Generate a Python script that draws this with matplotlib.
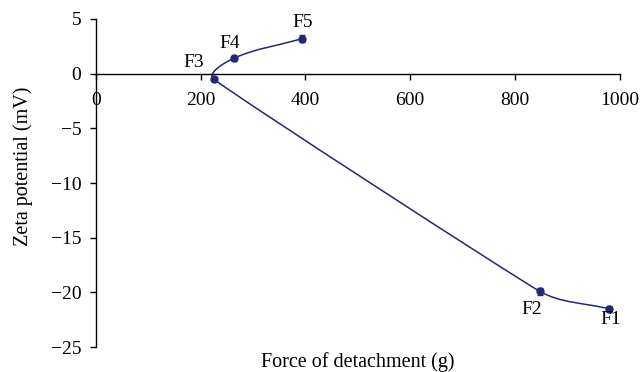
import numpy as np
import matplotlib
matplotlib.use('Agg')
import matplotlib.pyplot as plt
from matplotlib.path import Path
from matplotlib.patches import PathPatch

# data (F1..F5)
labels = ['F1', 'F2', 'F3', 'F4', 'F5']
force = [979, 847, 225, 263, 394]
zeta = [-21.5, -19.9, -0.5, 1.4, 3.2]
zeta_err = [0.3, 0.3, 0.2, 0.2, 0.3]

navy = '#25257a'
fs = 14
plt.rcParams['font.family'] = ['Liberation Serif', 'DejaVu Serif']

fig = plt.figure(figsize=(6.43, 3.72), dpi=100)
ax = fig.add_axes([0.149, 0.067, 0.815, 0.882])
ax.set_xlim(0, 1000)
ax.set_ylim(-25, 5)


def smooth_path(pts, max_arm=35.0):
    # bezier through the points, tangent from neighbours, arms = 1/3 of segment (capped)
    pts = np.asarray(pts, float)
    n = len(pts)
    tang = []
    for i in range(n):
        a = pts[max(i - 1, 0)]
        b = pts[min(i + 1, n - 1)]
        d = b - a
        tang.append(d / np.hypot(*d))
    verts = [pts[0]]
    codes = [Path.MOVETO]
    for i in range(n - 1):
        L = min(np.hypot(*(pts[i + 1] - pts[i])) / 3.0, max_arm)
        verts += [pts[i] + tang[i] * L, pts[i + 1] - tang[i + 1] * L, pts[i + 1]]
        codes += [Path.CURVE4] * 3
    return verts, codes


# smooth in display space so the shape follows the drawn aspect
disp = ax.transData.transform(np.column_stack([force, zeta]))
verts, codes = smooth_path(disp)
verts = ax.transData.inverted().transform(np.array(verts))
ax.add_patch(PathPatch(Path(verts, codes), facecolor='none', edgecolor=navy, lw=1.1))

ax.errorbar(force, zeta, yerr=zeta_err, fmt='o', color=navy, ms=5,
            elinewidth=1, capsize=2.5, capthick=1)

# label offsets in pixels (x right, y up)
offsets = {'F1': (2, -11), 'F2': (-8, -18), 'F3': (-20, 17),
           'F4': (-4, 15), 'F5': (0, 16)}
for lab, x, y in zip(labels, force, zeta):
    dx, dy = offsets[lab]
    ax.annotate(lab, (x, y), xytext=(dx, dy), textcoords='offset pixels',
                ha='center', va='center', fontsize=fs)

ax.set_xticks([0, 200, 400, 600, 800, 1000])
ax.set_yticks([5, 0, -5, -10, -15, -20, -25])
ax.set_yticklabels(['5', '0', '\u22125', '\u221210', '\u221215', '\u221220', '\u221225'])
ax.spines['bottom'].set_position(('data', 0))
ax.spines['top'].set_visible(False)
ax.spines['right'].set_visible(False)
ax.spines['left'].set_linewidth(1.0)
ax.spines['bottom'].set_linewidth(1.0)
ax.tick_params(axis='both', direction='out', length=4.5, width=1, labelsize=fs,
               colors='black')
ax.tick_params(axis='y', pad=6)
ax.tick_params(axis='x', pad=9)

ax.set_xlabel('Force of detachment (g)', fontsize=fs + 0.5, va='center')
ax.xaxis.set_label_coords(0.5, -0.046)
ax.set_ylabel('Zeta potential (mV)', fontsize=fs + 0.5, va='center')
ax.yaxis.set_label_coords(-0.139, 0.552)

fig.savefig('out.png', dpi=100)
